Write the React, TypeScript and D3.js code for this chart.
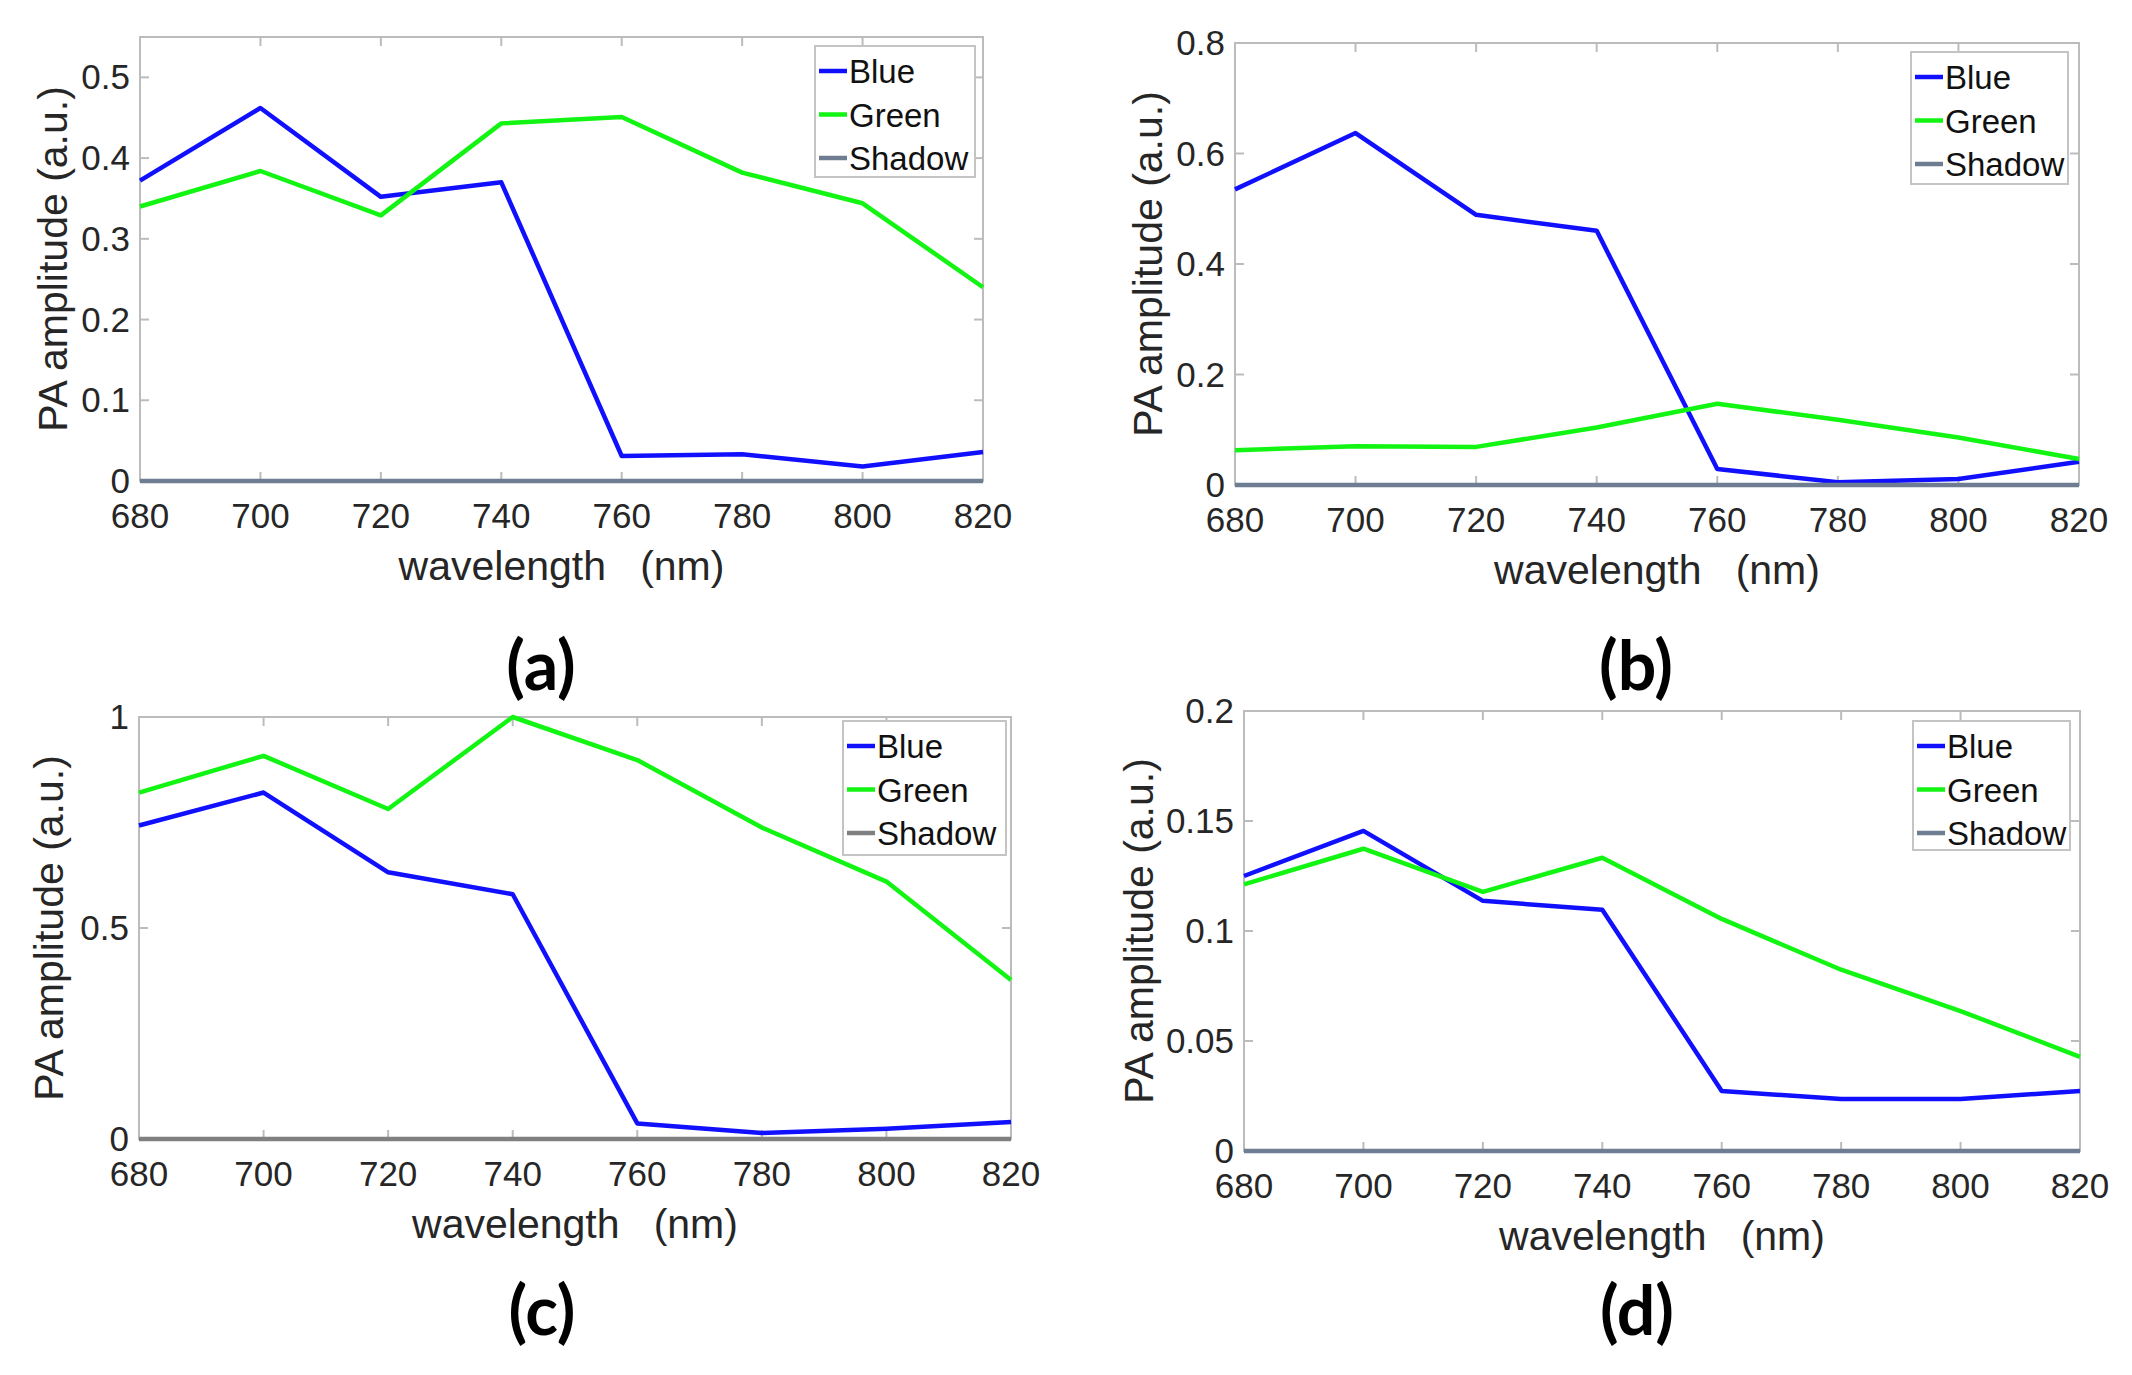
import * as d3 from 'd3';
import React from 'react';
import { useRef, useEffect } from 'react';

// wavelength sweep shared by all four panels
const wavelengths = [680, 700, 720, 740, 760, 780, 800, 820];
const xTicks = [680, 700, 720, 740, 760, 780, 800, 820];
const seriesNames = ['Blue', 'Green', 'Shadow'];

// (a)
const blueA = [0.372, 0.462, 0.352, 0.37, 0.031, 0.033, 0.018, 0.036];
const greenA = [0.34, 0.384, 0.329, 0.443, 0.451, 0.382, 0.344, 0.24];
const shadowA = [0, 0, 0, 0, 0, 0, 0, 0];
const yTicksA = [0, 0.1, 0.2, 0.3, 0.4, 0.5];

// (b)
const blueB = [0.535, 0.637, 0.489, 0.46, 0.029, 0.005, 0.011, 0.042];
const greenB = [0.063, 0.07, 0.069, 0.104, 0.147, 0.118, 0.086, 0.047];
const shadowB = [0, 0, 0, 0, 0, 0, 0, 0];
const yTicksB = [0, 0.2, 0.4, 0.6, 0.8];

// (c)
const blueC = [0.743, 0.821, 0.632, 0.58, 0.037, 0.014, 0.024, 0.04];
const greenC = [0.821, 0.908, 0.782, 1.0, 0.898, 0.738, 0.61, 0.377];
const shadowC = [0, 0, 0, 0, 0, 0, 0, 0];
const yTicksC = [0, 0.5, 1];

// (d)
const blueD = [0.125, 0.1455, 0.1137, 0.1097, 0.0273, 0.0236, 0.0236, 0.0273];
const greenD = [0.1212, 0.1374, 0.1178, 0.1333, 0.1055, 0.0824, 0.0636, 0.0428];
const shadowD = [0, 0, 0, 0, 0, 0, 0, 0];
const yTicksD = [0, 0.05, 0.1, 0.15, 0.2];

const panelLabels = ['(a)', '(b)', '(c)', '(d)'];

const BLUE = '#1010ff';
const GREEN = '#12f512';
const TEXT = '#262626';
const AXIS = '#bcbcbc';
const FONT = '"Liberation Sans", Arial, Helvetica, sans-serif';

interface Panel {
  label: string;
  series: number[][];
  shadowColor: string;
  yMax: number;
  yTicks: number[];
  left: number;
  top: number;
  right: number;
  bottom: number;
  legend: { x: number; y: number; w: number; h: number };
  yLabelX: number;
  labelX: number;
  labelY: number;
}

const panels: Panel[] = [
  {
    label: panelLabels[0],
    series: [blueA, greenA, shadowA],
    shadowColor: '#6f7d92',
    yMax: 0.55,
    yTicks: yTicksA,
    left: 140,
    top: 37,
    right: 983,
    bottom: 481,
    legend: { x: 815, y: 46, w: 160, h: 131 },
    yLabelX: 53,
    labelX: 541,
    labelY: 666,
  },
  {
    label: panelLabels[1],
    series: [blueB, greenB, shadowB],
    shadowColor: '#6f7d92',
    yMax: 0.8,
    yTicks: yTicksB,
    left: 1235,
    top: 43,
    right: 2079,
    bottom: 485,
    legend: { x: 1911, y: 52, w: 157, h: 132 },
    yLabelX: 1148,
    labelX: 1636,
    labelY: 666,
  },
  {
    label: panelLabels[2],
    series: [blueC, greenC, shadowC],
    shadowColor: '#808080',
    yMax: 1,
    yTicks: yTicksC,
    left: 139,
    top: 717,
    right: 1011,
    bottom: 1139,
    legend: { x: 843, y: 721, w: 163, h: 134 },
    yLabelX: 49,
    labelX: 542,
    labelY: 1311,
  },
  {
    label: panelLabels[3],
    series: [blueD, greenD, shadowD],
    shadowColor: '#6f7d92',
    yMax: 0.2,
    yTicks: yTicksD,
    left: 1244,
    top: 711,
    right: 2080,
    bottom: 1151,
    legend: { x: 1913, y: 721, w: 157, h: 129 },
    yLabelX: 1139,
    labelX: 1637,
    labelY: 1311,
  },
];

export default function App() {
  const svgRef = useRef<SVGSVGElement | null>(null);

  useEffect(() => {
    if (!svgRef.current) return;
    const svg = d3.select(svgRef.current);
    svg.selectAll('*').remove();

    svg.append('rect').attr('width', 2132).attr('height', 1375).attr('fill', '#fff');

    panels.forEach((p) => {
      const g = svg.append('g');
      const x = d3.scaleLinear().domain([680, 820]).range([p.left, p.right]);
      const y = d3.scaleLinear().domain([0, p.yMax]).range([p.bottom, p.top]);
      const colors = [BLUE, GREEN, p.shadowColor];
      const tickLen = 9;

      // box
      g.append('rect')
        .attr('x', p.left)
        .attr('y', p.top)
        .attr('width', p.right - p.left)
        .attr('height', p.bottom - p.top)
        .attr('fill', '#fff')
        .attr('stroke', AXIS)
        .attr('stroke-width', 2);

      // ticks, inward on all sides
      xTicks.forEach((t) => {
        g.append('line')
          .attr('x1', x(t)).attr('x2', x(t))
          .attr('y1', p.bottom).attr('y2', p.bottom - tickLen)
          .attr('stroke', AXIS).attr('stroke-width', 2);
        g.append('line')
          .attr('x1', x(t)).attr('x2', x(t))
          .attr('y1', p.top).attr('y2', p.top + tickLen)
          .attr('stroke', AXIS).attr('stroke-width', 2);
        g.append('text')
          .attr('x', x(t))
          .attr('y', p.bottom + 47)
          .attr('text-anchor', 'middle')
          .attr('font-family', FONT)
          .attr('font-size', 35)
          .attr('fill', TEXT)
          .text(String(t));
      });
      p.yTicks.forEach((t) => {
        g.append('line')
          .attr('x1', p.left).attr('x2', p.left + tickLen)
          .attr('y1', y(t)).attr('y2', y(t))
          .attr('stroke', AXIS).attr('stroke-width', 2);
        g.append('line')
          .attr('x1', p.right).attr('x2', p.right - tickLen)
          .attr('y1', y(t)).attr('y2', y(t))
          .attr('stroke', AXIS).attr('stroke-width', 2);
        g.append('text')
          .attr('x', p.left - 10)
          .attr('y', y(t) + 12)
          .attr('text-anchor', 'end')
          .attr('font-family', FONT)
          .attr('font-size', 35)
          .attr('fill', TEXT)
          .text(String(t));
      });

      // lines
      const line = d3
        .line<number>()
        .x((_, i) => x(wavelengths[i]))
        .y((d) => y(d));
      p.series.forEach((s, i) => {
        g.append('path')
          .attr('d', line(s))
          .attr('fill', 'none')
          .attr('stroke', colors[i])
          .attr('stroke-width', 4.5)
          .attr('stroke-linejoin', 'round');
      });

      // axis labels
      g.append('text')
        .attr('x', (p.left + p.right) / 2)
        .attr('y', p.bottom + 99)
        .attr('text-anchor', 'middle')
        .attr('font-family', FONT)
        .attr('font-size', 41)
        .attr('fill', TEXT)
        .attr('xml:space', 'preserve')
        .style('white-space', 'pre')
        .text('wavelength   (nm)');
      g.append('text')
        .attr('transform', `translate(${p.yLabelX + 14}, ${(p.top + p.bottom) / 2}) rotate(-90)`)
        .attr('text-anchor', 'middle')
        .attr('font-family', FONT)
        .attr('font-size', 41)
        .attr('fill', TEXT)
        .text('PA amplitude (a.u.)');

      // legend
      const L = p.legend;
      g.append('rect')
        .attr('x', L.x).attr('y', L.y)
        .attr('width', L.w).attr('height', L.h)
        .attr('fill', '#fff')
        .attr('stroke', '#c4c4c4')
        .attr('stroke-width', 2);
      seriesNames.forEach((name, i) => {
        const cy = L.y + 25 + i * 43.5;
        g.append('line')
          .attr('x1', L.x + 4).attr('x2', L.x + 32)
          .attr('y1', cy).attr('y2', cy)
          .attr('stroke', colors[i])
          .attr('stroke-width', 4.5);
        g.append('text')
          .attr('x', L.x + 34)
          .attr('y', cy + 12)
          .attr('font-family', FONT)
          .attr('font-size', 33)
          .attr('fill', '#111')
          .text(name);
      });

      // panel label
      g.append('text')
        .attr('x', p.labelX)
        .attr('y', p.labelY + 24)
        .attr('text-anchor', 'middle')
        .attr('font-family', 'Lato, "Open Sans", sans-serif')
        .attr('font-weight', 'bold')
        .attr('font-size', 68)
        .attr('fill', '#000')
        .text(p.label);
    });
  }, []);

  return (
    <svg
      ref={svgRef}
      width={2132}
      height={1375}
      style={{ position: 'absolute', left: 0, top: 0 }}
    />
  );
}
